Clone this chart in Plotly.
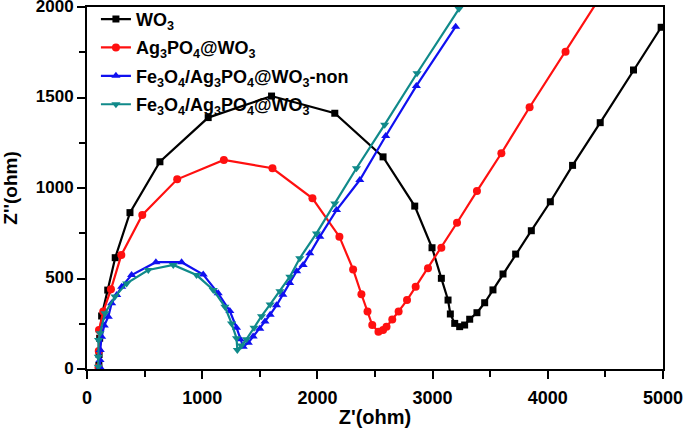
import plotly.graph_objects as go

# ---- Data (Z' in ohm, Z'' in ohm) ----
wo3_x = [103, 105, 110, 127, 180, 245, 373, 633, 1052, 1602, 2151, 2570, 2845, 2995, 3076,
         3134, 3154, 3192, 3235, 3278, 3322, 3385, 3452, 3524, 3611, 3721, 3857, 4022,
         4215, 4455, 4744, 4984]
wo3_y = [20, 80, 170, 293, 436, 615, 864, 1145, 1389, 1508, 1413, 1172, 900, 670, 501,
         381, 304, 252, 234, 243, 275, 311, 366, 437, 525, 635, 764, 924,
         1125, 1361, 1652, 1888]

ag_x = [100, 102, 104, 141, 208, 298, 480, 783, 1188, 1610, 1957, 2191, 2310, 2382, 2435,
        2476, 2530, 2570, 2600, 2650, 2705, 2778, 2853, 2960, 3076, 3212, 3385, 3597,
        3842, 4154, 4470]
ag_y = [10, 100, 215, 317, 440, 630, 851, 1048, 1155, 1109, 943, 731, 550, 413, 317,
        243, 206, 215, 234, 273, 318, 381, 455, 556, 670, 808, 983, 1192,
        1446, 1753, 2070]

non_x = [113, 113, 115, 127, 150, 185, 214, 258, 301, 387, 598, 821, 1009, 1139, 1240,
         1298, 1330, 1356, 1400, 1442, 1500, 1545, 1590, 1645, 1700, 1760, 1820, 1876,
         1934, 2021, 2166, 2368, 2593, 2859, 3200]
non_y = [10, 50, 105, 178, 240, 289, 363, 409, 455, 519, 590, 590, 522, 418, 320,
         228, 165, 123, 145, 180, 222, 262, 300, 352, 410, 475, 540, 575,
         639, 731, 878, 1044, 1287, 1564, 1891]

fe_x = [98, 98, 100, 113, 156, 243, 344, 532, 749, 951, 1096, 1197, 1255, 1298, 1305,
        1340, 1385, 1450, 1515, 1590, 1675, 1761, 1847, 1992, 2151, 2339, 2584, 2865, 3229]
fe_y = [13, 68, 160, 197, 308, 400, 473, 547, 575, 519, 437, 344, 252, 170, 105,
        130, 165, 228, 292, 357, 430, 510, 612, 749, 915, 1109, 1350, 1634, 1990]

names = ["WO<sub>3</sub>",
         "Ag<sub>3</sub>PO<sub>4</sub>@WO<sub>3</sub>",
         "Fe<sub>3</sub>O<sub>4</sub>/Ag<sub>3</sub>PO<sub>4</sub>@WO<sub>3</sub>-non",
         "Fe<sub>3</sub>O<sub>4</sub>/Ag<sub>3</sub>PO<sub>4</sub>@WO<sub>3</sub>"]
colors = ["#000000", "#FF1010", "#1010F0", "#108A8A"]
symbols = ["square", "circle", "triangle-up", "triangle-down"]
sizes = [7, 8, 8, 8]

FONT = "Liberation Sans, Arial, sans-serif"

fig = go.Figure()
for i, (xs, ys) in enumerate([(wo3_x, wo3_y), (ag_x, ag_y), (non_x, non_y), (fe_x, fe_y)]):
    fig.add_trace(go.Scatter(
        x=xs, y=ys, mode="lines+markers", name=names[i],
        legendgroup=f"g{i}",
        line=dict(color=colors[i], width=2.2),
        marker=dict(color=colors[i], symbol=symbols[i], size=sizes[i]),
        cliponaxis=True,
    ))

axis_common = dict(
    showline=True, linecolor="black", linewidth=2, mirror=True,
    ticks="outside", ticklen=8, tickwidth=2, tickcolor="black",
    showgrid=False, zeroline=False, automargin=False,
    ticklabeloverflow="allow",
)

fig.update_xaxes(
    range=[0, 5000], tickmode="linear", tick0=0, dtick=1000,
    minor=dict(ticks="outside", ticklen=6, tickwidth=2, tickcolor="black", dtick=500, tick0=0),
    title=dict(text="Z'(ohm)", font=dict(family=FONT, size=20, color="black", weight="bold")),
    tickfont=dict(family=FONT, size=18, color="black", weight="bold"),
    ticklabelstandoff=3,
    **axis_common,
)
fig.update_yaxes(
    range=[0, 2000], tickmode="linear", tick0=0, dtick=500,
    minor=dict(ticks="outside", ticklen=6, tickwidth=2, tickcolor="black", dtick=250, tick0=0),
    title=dict(text="Z''(ohm)", font=dict(family=FONT, size=19, color="black", weight="bold")),
    tickfont=dict(family=FONT, size=17, color="black", weight="bold"),
    ticklabelshift=-1,
    **axis_common,
)

fig.update_layout(
    width=685, height=428,
    margin=dict(l=87, r=22, t=7, b=59, autoexpand=False),
    paper_bgcolor="white", plot_bgcolor="white",
    showlegend=True,
    legend=dict(
        x=0.0155, y=1.017, xanchor="left", yanchor="top",
        bgcolor="rgba(0,0,0,0)", borderwidth=0,
        font=dict(family=FONT, size=18, color="black", weight="bold"),
        traceorder="grouped", tracegroupgap=2,
    ),
)

fig.write_html("out.html", config={"displayModeBar": False},
               post_script="document.body.style.margin='0px';document.body.style.padding='0px';")
